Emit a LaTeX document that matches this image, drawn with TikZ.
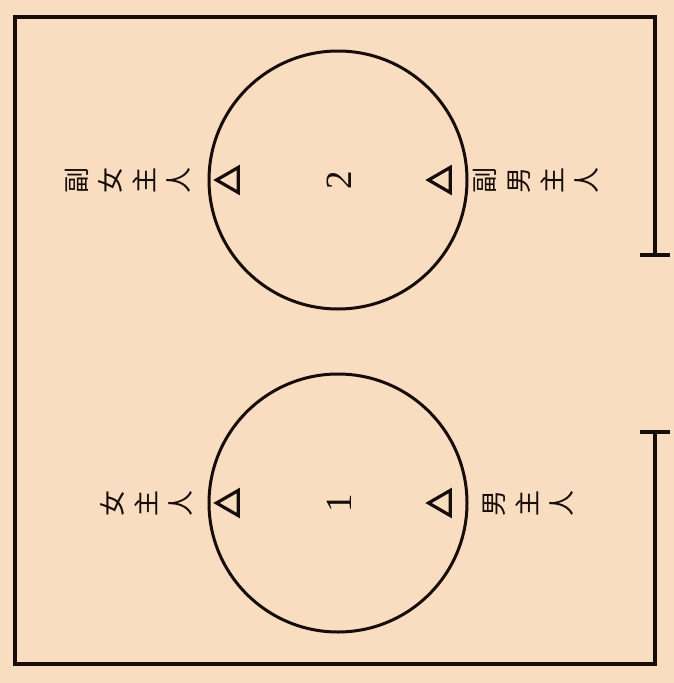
\documentclass[tikz,border=0pt]{standalone}
\usepackage{fontspec}
\newfontfamily\cjk{Noto Sans CJK SC}
\newfontfamily\numfont{Liberation Serif}
\usetikzlibrary{shapes.geometric}
\definecolor{bg}{RGB}{249,221,192}
\definecolor{ink}{RGB}{22,12,10}
\tikzset{
  frame/.style={draw=ink, line width=4.5pt},
  roundtable/.style={circle, draw=ink, line width=3pt, minimum size=258pt, inner sep=0pt},
  seat/.style={regular polygon, regular polygon sides=3, shape border rotate=90, draw=ink, line width=3.2pt, minimum size=29pt, inner sep=0pt},
  lab/.style={rotate=90, align=center, text=ink, inner sep=0pt, font=\cjk\fontsize{26}{34}\selectfont},
  tablenum/.style={rotate=90, text=ink, inner sep=0pt, font=\numfont\fontsize{37}{40}\selectfont}
}
\begin{document}
\begin{tikzpicture}[x=1pt,y=-1pt]
\fill[bg] (0,0) rectangle (674,683);
\useasboundingbox (0,0) rectangle (674,683);
% frame
\coordinate (ua) at (655,255);
\coordinate (ub) at (655,17);
\coordinate (uc) at (15,17);
\coordinate (ud) at (15,664);
\coordinate (ue) at (655,664);
\coordinate (uf) at (655,432);
\coordinate (t1a) at (640,255);
\coordinate (t1b) at (670,255);
\coordinate (t2a) at (640,432);
\coordinate (t2b) at (670,432);
\draw[frame] (ua) -- (ub) -- (uc) -- (ud) -- (ue) -- (uf);
\draw[frame] (t1a) -- (t1b);
\draw[frame] (t2a) -- (t2b);
% tables
\node[roundtable] (c2) at (338,180) {};
\node[roundtable] (c1) at (338,503) {};
\node[tablenum] (n2) at (339,180) {2};
\node[tablenum] (n1) at (339,503) {1};
% seats
\node[seat] (s2l) at (231,180) {};
\node[seat] (s2r) at (443,180) {};
\node[seat] (s1l) at (231,503) {};
\node[seat] (s1r) at (443,503) {};
% labels
\node[lab] (l2l) at (128,180) {副\\女\\主\\人};
\node[lab] (l2r) at (536,180) {副\\男\\主\\人};
\node[lab] (l1l) at (146,503) {女\\主\\人};
\node[lab] (l1r) at (528,503) {男\\主\\人};
\end{tikzpicture}
\end{document}
